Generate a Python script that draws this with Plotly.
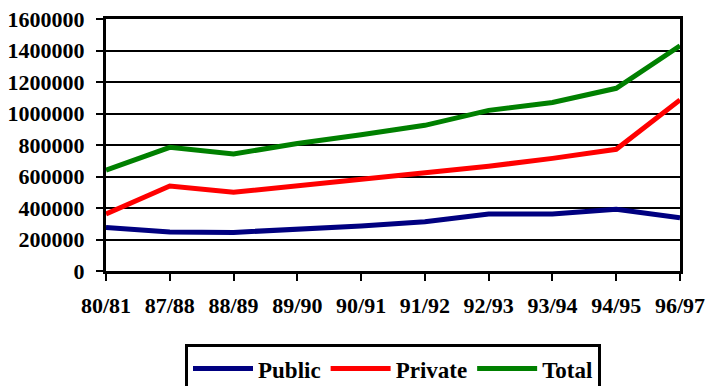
import plotly.graph_objects as go

years = ["80/81", "87/88", "88/89", "89/90", "90/91", "91/92", "92/93", "93/94", "94/95", "96/97"]
public = [277000, 248000, 245000, 265000, 286000, 313000, 362000, 362000, 392000, 338000]
private = [362000, 540000, 500000, 540000, 580000, 620000, 665000, 715000, 773000, 1086000]
total = [641000, 785000, 743000, 810000, 865000, 925000, 1020000, 1070000, 1160000, 1430000]
y_ticks = [0, 200000, 400000, 600000, 800000, 1000000, 1200000, 1400000, 1600000]

FONT = "Times New Roman"

fig = go.Figure()
for name, vals, color in [("Public", public, "#000080"), ("Private", private, "#FF0000"), ("Total", total, "#008000")]:
    fig.add_trace(go.Scatter(x=years, y=vals, name="<b>%s</b>" % name, mode="lines",
                             line=dict(color=color, width=5)))

fig.update_layout(
    width=706, height=386,
    margin=dict(l=106, r=26, t=19, b=115, autoexpand=False),
    paper_bgcolor="white", plot_bgcolor="white",
    font=dict(family=FONT, size=20, color="black"),
    showlegend=True,
    legend=dict(orientation="h", x=0.5, xanchor="center", y=-0.29, yanchor="top",
                bordercolor="black", borderwidth=3, bgcolor="white",
                font=dict(family=FONT, size=23, color="black"),
                traceorder="normal", itemwidth=60),
)
fig.update_xaxes(type="category", range=[0, 9], showgrid=False,
                 tickvals=years, ticktext=["<b>%s</b>" % y for y in years],
                 showline=True, linecolor="black", linewidth=3, mirror=True,
                 ticks="outside", ticklen=7, tickwidth=2, tickcolor="black",
                 tickfont=dict(family=FONT, size=22, color="black"),
                 ticklabelstandoff=6, zeroline=False)
fig.update_yaxes(range=[0, 1600000], tickvals=y_ticks, ticktext=["<b>%d</b>" % v for v in y_ticks],
                 showgrid=True, gridcolor="black", gridwidth=2,
                 showline=True, linecolor="black", linewidth=3, mirror=True,
                 ticks="outside", ticklen=7, tickwidth=2, tickcolor="black",
                 tickfont=dict(family=FONT, size=22, color="black"),
                 ticklabelstandoff=7, zeroline=False)

fig.write_html("out.html")
